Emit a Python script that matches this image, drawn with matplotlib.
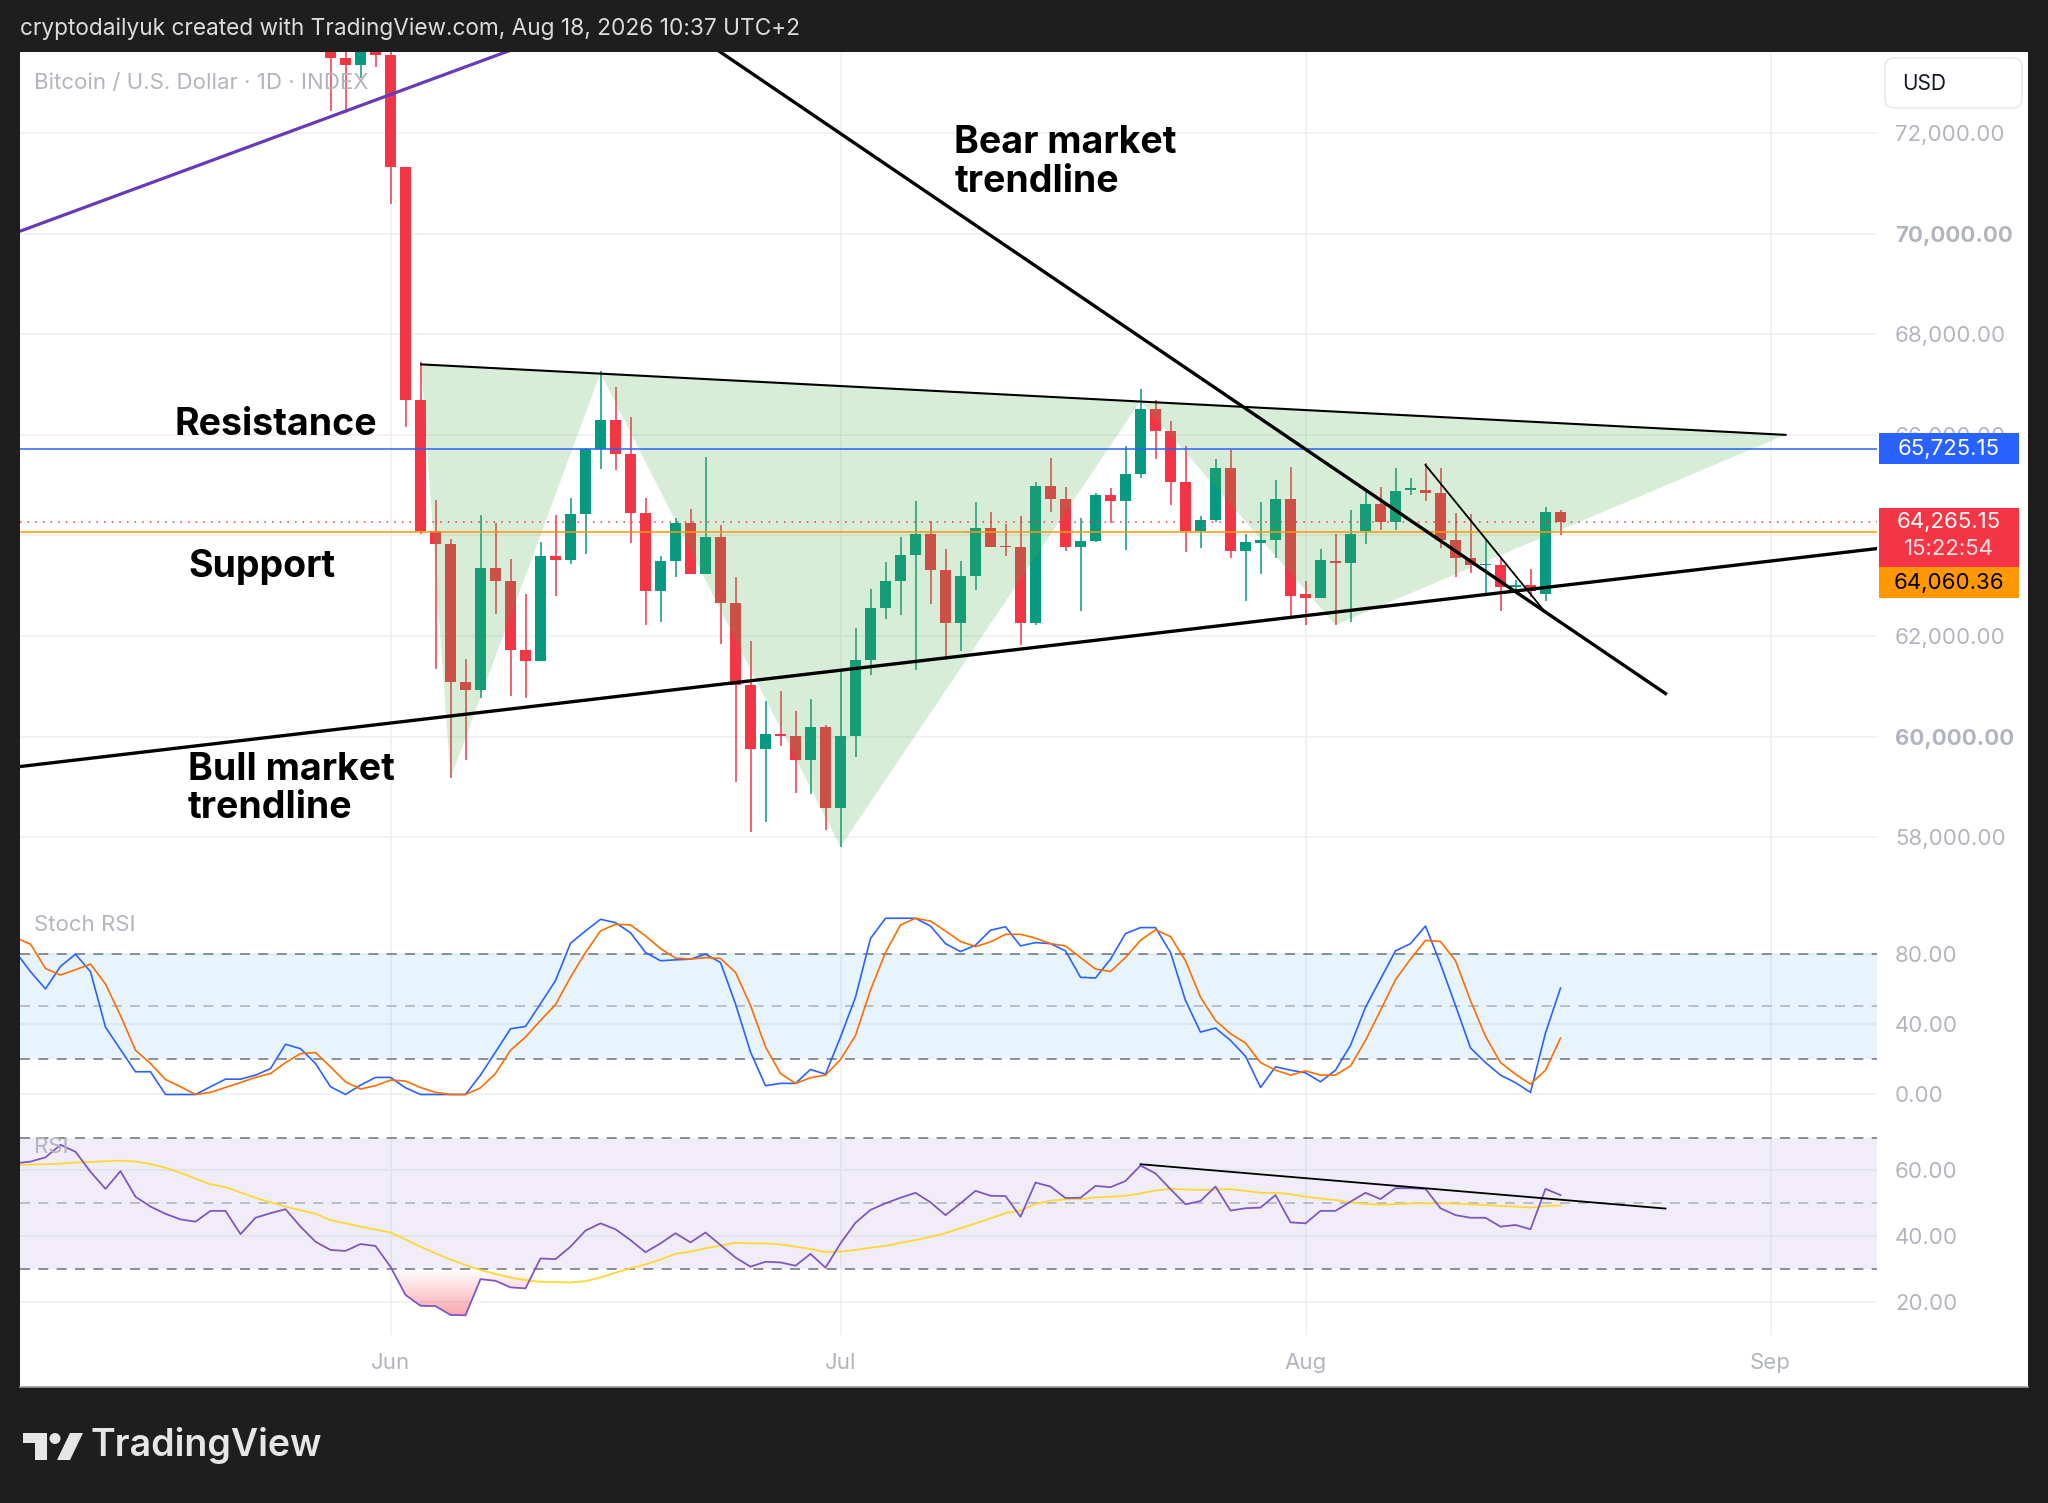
import numpy as np
import pandas as pd
import matplotlib.pyplot as plt
from matplotlib import transforms
from matplotlib.patches import Rectangle, Polygon, FancyBboxPatch, Circle
from matplotlib.path import Path

plt.rcParams['font.family'] = ['Inter', 'DejaVu Sans']

# --- data (x = days from 1 Jun) ---
origin = pd.Timestamp('2026-06-01')
candle_dates = pd.date_range('2026-05-28', periods=83, freq='D')
opens = [73700, 73500, 73360, 73700, 73560, 71320, 66690, 64085, 63830, 61080,
         60930, 63360, 63100, 61720, 61500, 63590, 63520, 64420, 65720, 66290,
         65620, 64450, 62900, 63500, 64240, 63240, 63960, 62660, 61030, 59760,
         60060, 60010, 59530, 60200, 58580, 60010, 61530, 62560, 63100, 63610,
         64030, 63320, 62250, 63200, 64140, 63780, 63770, 62250, 64990, 64720,
         63770, 63900, 64810, 64690, 65220, 66520, 66080, 65060, 64090, 64310,
         65350, 63690, 63860, 63910, 64720, 62840, 62750, 63500, 63460, 64080,
         64620, 64260, 64906, 64910, 64850, 63910, 63550, 63410, 63410, 62980,
         63020, 62830, 64475]
highs = [73750, 73620, 73800, 73800, 73650, 71330, 67450, 64700, 63930, 61550,
         64400, 64240, 63540, 62840, 63880, 64400, 64740, 65740, 67270, 66950,
         66360, 64740, 63600, 64340, 64520, 65560, 64200, 63180, 61910, 60700,
         60900, 60500, 60740, 60240, 61330, 62160, 62940, 63470, 63970, 64680,
         64290, 63730, 63490, 64660, 64460, 64230, 64390, 65070, 65550, 64960,
         64340, 64840, 64940, 65770, 66920, 66700, 66280, 65770, 64390, 65520,
         65700, 64030, 64670, 65100, 65370, 63100, 63730, 64030, 64500, 64890,
         64960, 65350, 65140, 65440, 65340, 64440, 64420, 63930, 63570, 63120,
         63330, 64570, 64510]
lows = [72450, 72400, 73100, 73320, 70600, 66150, 64030, 61340, 59170, 59530,
        60770, 62430, 60800, 60770, 61500, 62790, 63430, 63640, 65330, 65300,
        63850, 62220, 62270, 63170, 63230, 63230, 61850, 59090, 58100, 58300,
        59820, 58870, 58860, 58140, 57810, 59590, 61220, 62330, 62410, 61320,
        62640, 61530, 61710, 62910, 63770, 63600, 61820, 62210, 64460, 63690,
        62490, 63880, 64240, 63710, 65140, 65520, 64610, 63680, 63750, 64260,
        63560, 62690, 63230, 63550, 62390, 62220, 62750, 62220, 62280, 63830,
        64110, 64110, 64810, 64690, 63760, 63180, 63260, 62820, 62490, 62900,
        62770, 62700, 64000]
closes = [73500, 73360, 73700, 73560, 71320, 66690, 64085, 63830, 61080, 60930,
          63360, 63100, 61720, 61500, 63590, 63520, 64420, 65720, 66290, 65620,
          64450, 62900, 63500, 64240, 63240, 63960, 62660, 61030, 59760, 60060,
          60010, 59530, 60200, 58580, 60010, 61530, 62560, 63100, 63610, 64030,
          63320, 62250, 63200, 64140, 63780, 63770, 62250, 64990, 64720, 63770,
          63900, 64810, 64690, 65220, 66520, 66080, 65060, 64090, 64310, 65350,
          63690, 63880, 63910, 64720, 62800, 62750, 63510, 63460, 64030, 64620,
          64260, 64890, 64940, 64850, 63910, 63550, 63410, 63440, 62970, 63020,
          62900, 64475, 64265.15]

ind_dates = pd.date_range('2026-05-07', periods=104, freq='D')
stoch_k = [81, 69.7, 59.9, 72.7, 79.6, 69.7, 38.2, 25.5, 12.9, 12.9,
           0, 0, 0, 4.4, 8.7, 8.7, 11.0, 14.7, 28.5, 26.0,
           17.6, 4.4, 0, 5.3, 9.7, 9.7, 3.8, 0, 0, 0,
           0, 11.0, 24.1, 37.3, 38.6, 51.5, 64.6, 85.8, 92.8, 99.4,
           97.5, 91.8, 80.6, 75.9, 76.4, 76.8, 79.6, 74.9, 51.4, 24.1,
           5.0, 6.3, 6.3, 14.2, 11.5, 32.6, 55.2, 88.5, 100, 100,
           100, 95.6, 85.6, 81.1, 84.7, 93.2, 95.2, 84.3, 86.2, 85.6,
           81.5, 66.5, 66.1, 76.8, 91.3, 94.7, 94.7, 80.6, 53.3, 35.4,
           37.7, 30.7, 21.7, 4.0, 15.7, 13.8, 12.3, 7.2, 13.8, 27.9,
           49.5, 65.5, 81.5, 85.6, 95.6, 74.0, 50.5, 26.4, 18.1, 11.0,
           6.7, 1.2, 34.9, 60.4]
stoch_d = [89.0, 85.3, 71.5, 67.8, 70.8, 74.0, 62.7, 44.8, 25.1, 17.6,
           8.5, 4.4, 0, 1.2, 4.0, 6.8, 9.7, 11.9, 18.1, 23.2,
           23.8, 15.7, 7.2, 3.1, 5.0, 8.2, 7.6, 4.0, 1.2, 0,
           0, 3.8, 11.9, 25.1, 32.6, 42.0, 51.0, 66.5, 80.6, 92.8,
           96.6, 96.2, 90.0, 82.8, 77.4, 76.8, 77.7, 77.2, 69.3, 50.5,
           27.0, 11.9, 6.3, 9.5, 11.0, 19.8, 33.5, 59.3, 80.6, 96.2,
           100, 98.4, 92.8, 86.8, 83.9, 86.6, 90.9, 90.9, 88.7, 85.6,
           84.3, 77.7, 71.2, 69.8, 77.7, 87.5, 93.4, 89.6, 75.9, 55.2,
           42.0, 34.5, 29.2, 18.1, 13.8, 11.0, 13.4, 11.0, 11.0, 16.2,
           30.7, 47.7, 65.1, 76.8, 87.5, 86.8, 75.9, 53.3, 33.0, 18.1,
           11.5, 5.9, 13.8, 32.0]
rsi = [62.2, 62.7, 64.0, 67.8, 65.7, 59.6, 54.4, 59.8, 52.0, 49.0,
       46.8, 45.1, 44.4, 47.7, 47.7, 40.6, 45.6, 47.0, 48.2, 42.9,
       38.3, 35.8, 35.5, 37.6, 37.0, 30.7, 22.1, 18.8, 18.7, 16.0,
       15.9, 26.9, 26.4, 24.4, 24.1, 33.2, 33.0, 36.8, 41.7, 43.9,
       42.1, 38.8, 35.1, 37.8, 40.9, 38.1, 41.1, 37.3, 33.5, 30.7,
       32.2, 32.0, 31.0, 34.6, 30.4, 37.8, 44.1, 48.0, 50.0, 51.7,
       53.2, 50.3, 46.4, 50.0, 53.8, 52.3, 52.2, 45.9, 56.3, 55.1,
       51.6, 51.7, 55.3, 54.9, 56.8, 61.5, 59.1, 54.3, 49.7, 50.7,
       55.1, 47.8, 48.5, 48.7, 52.5, 44.2, 43.9, 47.7, 47.7, 50.5,
       53.2, 51.3, 54.6, 54.6, 54.4, 48.5, 46.4, 45.6, 45.6, 42.9,
       43.4, 42.1, 54.4, 52.5]
rsi_ma = [61.7, 61.8, 61.9, 62.1, 62.4, 62.6, 62.8, 63.0, 62.7, 62.0,
          60.8, 59.3, 57.5, 55.8, 54.9, 53.3, 51.7, 50.3, 49.0, 47.9,
          46.8, 44.9, 43.9, 42.9, 42.0, 41.1, 39.0, 36.8, 34.8, 32.9,
          31.2, 29.7, 28.5, 27.4, 26.6, 26.1, 26.0, 25.9, 26.3, 27.4,
          28.9, 30.2, 31.4, 32.9, 34.6, 35.3, 36.3, 37.1, 38.0, 37.8,
          37.8, 37.5, 36.8, 36.1, 35.1, 35.3, 35.8, 36.5, 37.0, 38.0,
          38.8, 39.8, 40.9, 42.4, 43.9, 45.4, 47.0, 47.8, 49.8, 50.8,
          51.2, 51.3, 51.8, 52.0, 52.3, 53.0, 53.9, 54.4, 54.2, 54.1,
          54.2, 54.3, 53.8, 53.2, 53.2, 52.8, 52.0, 51.5, 51.0, 50.3,
          49.8, 49.6, 49.7, 50.0, 50.0, 50.0, 49.9, 49.7, 49.5, 49.2,
          49.0, 48.7, 49.2, 49.3]

month_starts = ['2026-06-01', '2026-07-01', '2026-08-01', '2026-09-01']
month_labels = ['Jun', 'Jul', 'Aug', 'Sep']
price_ticks = [58000, 60000, 62000, 64000, 66000, 68000, 70000, 72000]

# drawings (day, price)
bear_x, bear_y = [15.0, 85.0], [75030, 60857]
bull_x, bull_y = [-24.7, 99.1], [59405, 63740]
purple_x, purple_y = [-24.7, 12.0], [70051, 74090]
res_x, res_y = [2.04, 93.0], [67403, 66001]
short_x, short_y = [69.0, 76.9], [65402, 62505]
zigzag_x = [2.04, 4, 14, 30, 50, 63, 93.0]
zigzag_y = [67403, 59170, 67230, 57808, 66680, 62221, 66001]
rsi_tl_x, rsi_tl_y = [50, 85], [61.9, 48.4]
level_blue = 65725.15
level_orange = 64060.36
last_price = 64265.15
countdown = '15:22:54'

cx = np.array((candle_dates - origin).days)
ix = np.array((ind_dates - origin).days)
mx = np.array((pd.to_datetime(month_starts) - origin).days)
o, h, l, c = map(np.array, (opens, highs, lows, closes))
rsi = np.array(rsi)

UP, DOWN = '#089981', '#f23645'
GRID = '#eef0f3'
LBL = '#b2b5be'
W, H = 2048, 1503
XL = (-24.7, 99.1)

fig = plt.figure(figsize=(W / 100, H / 100), dpi=100, facecolor='#1e1e1e')

bg = fig.add_axes([0, 0, 1, 1], zorder=-1)
bg.set_xlim(0, W)
bg.set_ylim(H, 0)
bg.axis('off')
bg.add_patch(Rectangle((20, 52), 2008, 1335, facecolor='white', edgecolor='none'))
bg.plot([20, 2028], [1387, 1387], color='#9a9a9a', lw=1.2)
bg.text(20, 29, 'cryptodailyuk created with TradingView.com, Aug 18, 2026 10:37 UTC+2',
        color='#dcdcdc', fontsize=16.3, va='center', ha='left')
bg.add_patch(FancyBboxPatch((1885, 58), 137, 50, boxstyle='round,pad=0,rounding_size=9',
                            facecolor='white', edgecolor='#e3e5ea', lw=1))
bg.text(1902, 84, 'USD', fontsize=15, va='center', ha='left', color='#131722')
# TradingView logo
logo = '#e6e6e6'
bg.add_patch(Polygon([(23, 1433), (47, 1433), (47, 1460), (35, 1460), (35, 1443), (23, 1443)],
                     closed=True, facecolor=logo, edgecolor='none'))
bg.add_patch(Circle((55, 1438.5), 5.5, facecolor=logo, edgecolor='none'))
bg.add_patch(Polygon([(57, 1460), (70, 1460), (83, 1433), (70, 1433)],
                     closed=True, facecolor=logo, edgecolor='none'))
bg.text(91, 1446, 'TradingView', color=logo, fontsize=27, fontweight='semibold',
        va='center', ha='left')


def pane(top, bottom):
    a = fig.add_axes([20 / W, 1 - bottom / H, 1857 / W, (bottom - top) / H])
    a.set_facecolor('white')
    for s in a.spines.values():
        s.set_visible(False)
    a.set_xlim(*XL)
    a.set_xticks(mx)
    a.tick_params(length=0, colors=LBL, labelsize=16, pad=13)
    a.yaxis.tick_right()
    a.grid(True, color=GRID, lw=1.2)
    a.set_axisbelow(True)
    return a


ax = pane(52, 892)
ax2 = pane(892, 1113)
ax3 = pane(1113, 1335)

# ---- main price pane ----
ax.set_ylim(56910, 73615)
# the 64,000 label sits fully behind the price tags, so leave it blank
ax.set_yticks(price_ticks, ['' if p == 64000 else f'{p:,.2f}' for p in price_ticks])
for t in ax.get_yticklabels():
    if t.get_text() in ('70,000.00', '60,000.00'):
        t.set_fontweight('bold')
ax.set_xticklabels([])

up = c >= o
cols = np.where(up, UP, DOWN)
ax.vlines(cx, l, h, colors=cols, lw=1.1, zorder=2)
body = np.maximum(np.abs(c - o), 25)
ax.bar(cx, body, bottom=np.minimum(o, c), width=0.72, color=cols, lw=0, zorder=3)

ax.add_patch(Polygon(np.column_stack([zigzag_x, zigzag_y]), closed=True,
                     facecolor='#4caf50', alpha=0.22, edgecolor='none', zorder=4))

ax.axhline(level_blue, color='#2962ff', lw=1.1, zorder=5)
ax.axhline(level_orange, color='#ff9800', lw=1.1, zorder=5)
ax.axhline(last_price, color=DOWN, lw=1.1, ls=(0, (1, 4)), zorder=5)

ax.plot(purple_x, purple_y, color='#673ab7', lw=2.3, zorder=6)
ax.plot(res_x, res_y, color='black', lw=1.5, zorder=6)
ax.plot(bear_x, bear_y, color='black', lw=2.4, zorder=6)
ax.plot(bull_x, bull_y, color='black', lw=2.4, zorder=6)
ax.plot(short_x, short_y, color='black', lw=1.3, zorder=6)

ax.text(0.0075, 0.963, 'Bitcoin / U.S. Dollar · 1D · INDEX', transform=ax.transAxes,
        color=LBL, fontsize=16, va='center', ha='left', zorder=7)

note = dict(fontsize=27, fontweight='bold', color='black', zorder=8, linespacing=1.1)
ax.text(37.6, 71420, 'Bear market\ntrendline', va='center', ha='left', **note)
ax.text(-14.4, 66200, 'Resistance', va='center', ha='left', **note)
ax.text(-13.5, 63380, 'Support', va='center', ha='left', **note)
ax.text(-13.5, 58960, 'Bull market\ntrendline', va='center', ha='left', **note)

# price tags on the axis
blend = transforms.blended_transform_factory(ax.transAxes, ax.transData)
tx0, tw, tcx = 1.0011, 0.0754, 1.0388
ax.add_patch(Rectangle((tx0, level_blue - 308), tw, 616, transform=blend,
                       facecolor='#2962ff', edgecolor='none', clip_on=False, zorder=20))
ax.text(tcx, level_blue, f'{level_blue:,.2f}', transform=blend, color='white',
        fontsize=16, ha='center', va='center', zorder=21)
ax.add_patch(Rectangle((tx0, last_price - 890), tw, 1173, transform=blend,
                       facecolor=DOWN, edgecolor='none', clip_on=False, zorder=20))
ax.text(tcx, last_price, f'{last_price:,.2f}', transform=blend, color='white',
        fontsize=16, ha='center', va='center', zorder=21)
ax.text(tcx, last_price - 540, countdown, transform=blend, color='#fde2e4',
        fontsize=16, ha='center', va='center', zorder=21)
ax.add_patch(Rectangle((tx0, last_price - 1515), tw, 625, transform=blend,
                       facecolor='#ff9800', edgecolor='none', clip_on=False, zorder=20))
ax.text(tcx, last_price - 1205, f'{level_orange:,.2f}', transform=blend, color='black',
        fontsize=16, ha='center', va='center', zorder=21)

# ---- Stoch RSI pane ----
ax2.set_ylim(-10.5, 114.9)
ax2.set_yticks([0, 40, 80], ['0.00', '40.00', '80.00'])
ax2.set_xticklabels([])
ax2.axhspan(20, 80, color='#2196f3', alpha=0.1, lw=0, zorder=1)
dash = (0, (6, 5))
ax2.axhline(80, color='#787b86', lw=1.2, ls=dash, zorder=2)
ax2.axhline(20, color='#787b86', lw=1.2, ls=dash, zorder=2)
ax2.axhline(50, color='#b2b5be', lw=1.2, ls=dash, zorder=2)
ax2.plot(ix, stoch_k, color='#2962ff', lw=1.2, zorder=4)
ax2.plot(ix, stoch_d, color='#ff6d00', lw=1.2, zorder=5)
ax2.text(0.0075, 0.8507, 'Stoch RSI', transform=ax2.transAxes, color=LBL,
         fontsize=16, va='center', ha='left', zorder=7)

# ---- RSI pane ----
ax3.axhspan(30, 70, color='#7e57c2', alpha=0.1, lw=0, zorder=1)
ax3.axhline(70, color='#787b86', lw=1.2, ls=dash, zorder=2)
ax3.axhline(30, color='#787b86', lw=1.2, ls=dash, zorder=2)
ax3.axhline(50, color='#b2b5be', lw=1.2, ls=dash, zorder=2)
low = ax3.fill_between(ix, rsi, 30, where=rsi < 30, interpolate=True,
                       facecolor='none', edgecolor='none')
img = np.zeros((256, 1, 4))
img[..., :3] = [242 / 255, 54 / 255, 69 / 255]
img[:, 0, 3] = np.linspace(0.5, 0.0, 256)
im = ax3.imshow(img, extent=[XL[0], XL[1], 14, 30], origin='lower', aspect='auto',
                zorder=3, interpolation='bilinear')
im.set_clip_path(Path.make_compound_path(*low.get_paths()), ax3.transData)
ax3.plot(ix, rsi_ma, color='#fdd835', lw=1.3, zorder=4)
ax3.plot(ix, rsi, color='#7e57c2', lw=1.3, zorder=5)
ax3.plot(rsi_tl_x, rsi_tl_y, color='black', lw=1.3, zorder=6)
ax3.set_xlim(*XL)
ax3.set_ylim(9.9, 77.5)
ax3.set_yticks([20, 40, 60], ['20.00', '40.00', '60.00'])
ax3.set_xticks(mx, month_labels)
ax3.text(0.0075, 0.847, 'RSI', transform=ax3.transAxes, color=LBL,
         fontsize=16, va='center', ha='left', zorder=7)

fig.savefig('out.png', dpi=100, facecolor=fig.get_facecolor())
